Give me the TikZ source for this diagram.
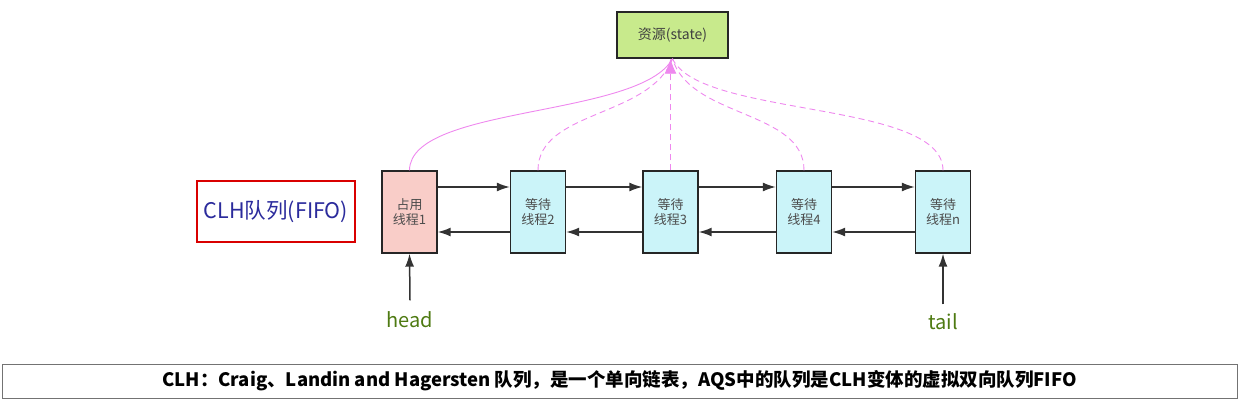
\documentclass[tikz,border=0pt]{standalone}
\usepackage{fontspec}
\setmainfont{Noto Sans CJK SC}
\usetikzlibrary{arrows.meta}
\definecolor{statefill}{HTML}{C8EA8C}
\definecolor{ownfill}{HTML}{F9CDC8}
\definecolor{waitfill}{HTML}{CBF4F9}
\definecolor{linkpink}{HTML}{EE88EE}
\definecolor{labgreen}{HTML}{4E7A12}
\definecolor{clhblue}{HTML}{2B2B9C}
\tikzset{
  thread/.style={draw=black!85,line width=1.4pt,minimum width=55pt,minimum height=82pt,
    inner sep=0pt,align=center,font=\fontsize{13}{15}\selectfont,text=black!70},
  link/.style={draw=black!80,line width=1.5pt,-{Latex[length=13pt,width=9pt]}},
  res/.style={linkpink,line width=0.9pt},
  resdash/.style={res,dash pattern=on 6pt off 4pt},
}
\begin{document}
\begin{tikzpicture}[x=1pt,y=-1pt]
  \useasboundingbox (0,0) rectangle (1248,410);
  \node[draw=black!85,line width=1.4pt,fill=statefill,minimum width=111pt,minimum height=46pt,
    font=\fontsize{14}{16}\selectfont,text=black!75] (st) at (672.5,35) {资源(state)};
  \node[thread,fill=ownfill]  (n1) at (409.5,212) {占用\\线程1};
  \node[thread,fill=waitfill] (n2) at (538,212)   {等待\\线程2};
  \node[thread,fill=waitfill] (n3) at (670.5,212) {等待\\线程3};
  \node[thread,fill=waitfill] (n4) at (804,212)   {等待\\线程4};
  \node[thread,fill=waitfill] (nn) at (943,212)   {等待\\线程n};
  \node[draw=red!85!black,line width=1.6pt,minimum width=158pt,minimum height=61pt,
    font=\fontsize{21.5}{23}\selectfont,text=clhblue] (clh) at (276,211.5) {CLH队列(FIFO)};
  \foreach \a/\b in {n1/n2,n2/n3,n3/n4,n4/nn} {
    \draw[link] ([yshift=25pt]\a.east) -- ([yshift=25pt]\b.west);
    \draw[link] ([yshift=-20pt]\b.west) -- ([yshift=-20pt]\a.east);
  }
  \node[font=\fontsize{20}{22}\selectfont,text=labgreen] (hd) at (410,320) {head};
  \node[font=\fontsize{20}{22}\selectfont,text=labgreen] (tl) at (943,322) {tail};
  \draw[link] ([yshift=8pt]hd.north) -- (n1.south);
  \draw[link] ([yshift=6pt]tl.north) -- (nn.south);
  % curves up to the shared resource
  \draw[res] (n1.north) .. controls (410,105) and (640,118) .. (st.south);
  \draw[resdash] (n2.north) .. controls (538,110) and (650,118) .. (st.south);
  \draw[resdash] (n4.north) .. controls (804,110) and (690,118) .. (st.south);
  \draw[resdash] (nn.north) .. controls (943,100) and (700,118) .. (st.south);
  \draw[resdash,-{Latex[length=15pt,width=12pt]}] (n3.north) -- (n3.north |- st.south);
  \node[draw=black!55,line width=0.8pt,minimum width=1235pt,minimum height=34pt,
    font=\fontsize{18.5}{20}\selectfont\bfseries] (note) at (619.5,381)
    {CLH：Craig、Landin and Hagersten 队列，是一个单向链表，AQS中的队列是CLH变体的虚拟双向队列FIFO};
\end{tikzpicture}
\end{document}
